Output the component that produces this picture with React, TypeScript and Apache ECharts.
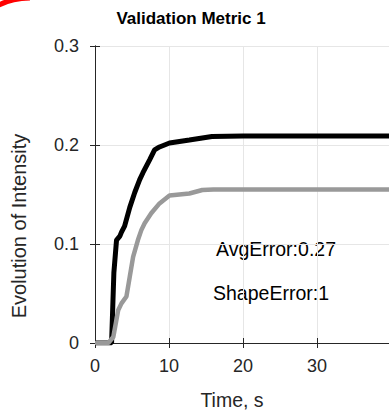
import React, { useEffect, useRef } from "react";
import * as echarts from "echarts";

// Time axis samples (s) and intensity evolution for the two curves
const blackTime = [0, 2.24, 2.55, 2.91, 3.36, 3.58, 4.0, 4.7, 5.37, 6.04, 6.48, 7.38, 8.05, 8.72, 10.07, 12.75, 15.8, 20, 30, 40, 50];
const blackValue = [0, 0, 0.071, 0.104, 0.108, 0.112, 0.118, 0.137, 0.152, 0.165, 0.172, 0.185, 0.195, 0.198, 0.202, 0.205, 0.2085, 0.209, 0.209, 0.209, 0.209];

const grayTime = [0, 1.8, 2.47, 3.13, 3.58, 4.25, 4.7, 5.15, 5.8, 6.26, 6.71, 7.6, 8.72, 10.07, 12.75, 14.5, 16, 20, 30, 40, 50];
const grayValue = [0, 0, 0.006, 0.033, 0.04, 0.047, 0.067, 0.087, 0.104, 0.114, 0.121, 0.131, 0.141, 0.149, 0.151, 0.1545, 0.155, 0.155, 0.155, 0.155, 0.155];

const yTickLabels = ["0", "0.1", "0.2", "0.3"];
const titleText = "Validation Metric 1";
const xName = "Time, s";
const yName = "Evolution of Intensity";
const avgErrorText = "AvgError:0.27";
const shapeErrorText = "ShapeError:1";

const FONT = '"Liberation Sans", Arial, Helvetica, sans-serif';
const AXIS_COLOR = "#262626";
const GRID_COLOR = "#e6e6e6";

export default function App() {
  const ref = useRef<HTMLDivElement>(null);

  useEffect(() => {
    if (!ref.current) return;
    const chart = echarts.init(ref.current, undefined, { renderer: "svg" });
    const pair = (xs: number[], ys: number[]) => xs.map((x, i) => [x, ys[i]]);

    const tickStyle = { show: true, inside: true, length: 5, lineStyle: { color: AXIS_COLOR, width: 1 } };
    const lineStyle = { show: true, lineStyle: { color: AXIS_COLOR, width: 1 } };

    chart.setOption({
      animation: false,
      grid: { left: 95, top: 46, bottom: 67, right: 0.5, containLabel: false },
      xAxis: [
        {
          type: "value",
          position: "bottom",
          min: 0,
          max: 50,
          interval: 10,
          axisLine: lineStyle,
          axisTick: tickStyle,
          splitLine: { show: true, lineStyle: { color: GRID_COLOR, width: 1 } },
          axisLabel: {
            color: AXIS_COLOR,
            fontSize: 18,
            fontFamily: FONT,
            margin: 14,
            formatter: (v: number) => (v >= 40 ? "" : String(v)),
          },
        },
        {
          type: "value",
          position: "top",
          min: 0,
          max: 50,
          interval: 10,
          axisLine: lineStyle,
          axisTick: tickStyle,
          splitLine: { show: false },
          axisLabel: { show: false },
        },
      ],
      yAxis: [
        {
          type: "value",
          position: "left",
          min: 0,
          max: 0.3,
          interval: 0.1,
          axisLine: lineStyle,
          axisTick: tickStyle,
          splitLine: { show: true, lineStyle: { color: GRID_COLOR, width: 1 } },
          axisLabel: {
            color: AXIS_COLOR,
            fontSize: 18,
            fontFamily: FONT,
            margin: 16,
            formatter: (_v: number, i: number) => yTickLabels[i] ?? "",
          },
        },
        {
          type: "value",
          position: "right",
          min: 0,
          max: 0.3,
          interval: 0.1,
          axisLine: lineStyle,
          axisTick: tickStyle,
          splitLine: { show: false },
          axisLabel: { show: false },
        },
      ],
      series: [
        {
          type: "line",
          data: pair(blackTime, blackValue),
          showSymbol: false,
          lineStyle: { color: "#000000", width: 5 },
          z: 3,
        },
        {
          type: "line",
          data: pair(grayTime, grayValue),
          showSymbol: false,
          lineStyle: { color: "#999999", width: 4.5 },
          z: 4,
        },
      ],
      graphic: [
        {
          type: "bezierCurve",
          shape: { x1: -3, y1: 6, x2: 30, y2: -2, cpx1: 8, cpy1: 0, cpx2: 20, cpy2: -2 },
          style: { stroke: "#ff0000", lineWidth: 5, fill: "none" },
        },
        {
          type: "text",
          x: 191,
          y: 18,
          style: { text: titleText, fontFamily: FONT, fontSize: 17, fontWeight: "bold", fill: "#000", align: "center", verticalAlign: "middle" },
        },
        {
          type: "text",
          x: 232,
          y: 400,
          style: { text: xName, fontFamily: FONT, fontSize: 19.5, fill: AXIS_COLOR, align: "center", verticalAlign: "middle" },
        },
        {
          type: "text",
          x: 19,
          y: 226,
          rotation: Math.PI / 2,
          style: { text: yName, fontFamily: FONT, fontSize: 20, fill: AXIS_COLOR, align: "center", verticalAlign: "middle" },
        },
        {
          type: "text",
          x: 276,
          y: 249,
          style: { text: avgErrorText, fontFamily: FONT, fontSize: 19.5, fill: "#000", align: "center", verticalAlign: "middle" },
        },
        {
          type: "text",
          x: 271,
          y: 293,
          style: { text: shapeErrorText, fontFamily: FONT, fontSize: 19.5, fill: "#000", align: "center", verticalAlign: "middle" },
        },
      ],
    });

    return () => chart.dispose();
  }, []);

  // The plot box runs past the right edge of the visible area
  return (
    <div style={{ position: "fixed", left: 0, top: 0, width: 389, height: 410, overflow: "hidden", background: "#fff" }}>
      <div ref={ref} style={{ width: 468, height: 410 }} />
    </div>
  );
}
